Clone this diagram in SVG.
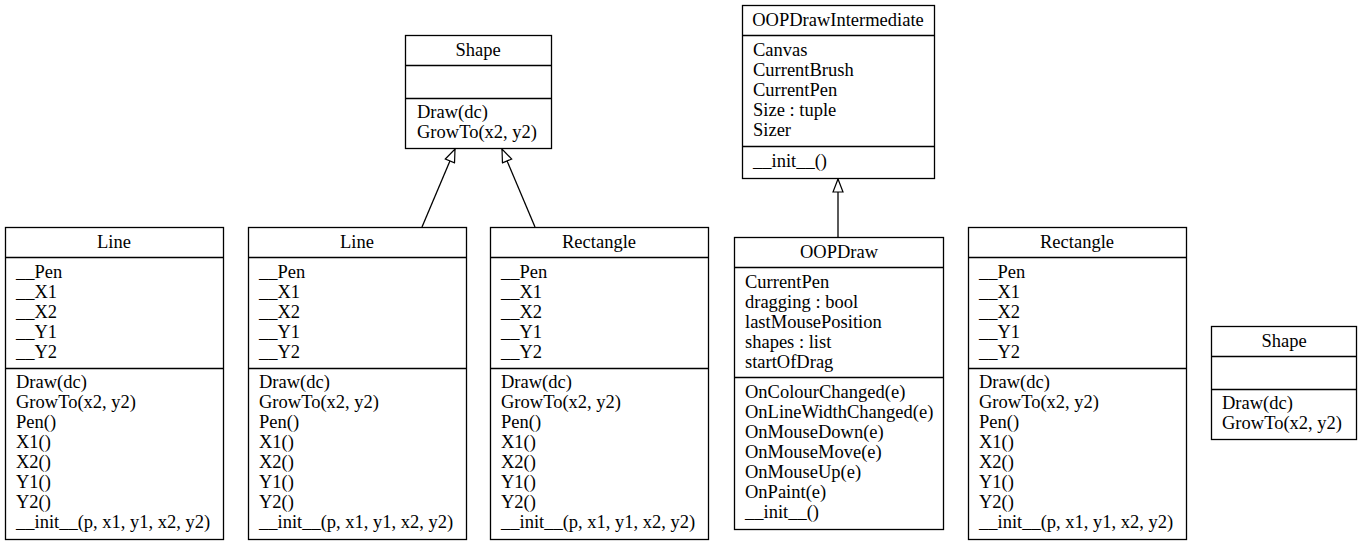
<svg xmlns="http://www.w3.org/2000/svg" width="1362" height="545" viewBox="0 0 1362 545">
<style>
rect.b{fill:#fff;stroke:#000;stroke-width:1.3}
line.d{stroke:#000;stroke-width:1.3}
text{font-size:18.5px;fill:#000}
text.h{text-anchor:middle}
.e{stroke:#000;stroke-width:1.3;fill:none}
</style>
<defs>
<marker id="tri" markerWidth="16" markerHeight="12" refX="14" refY="6" orient="auto" markerUnits="userSpaceOnUse">
<path d="M1,1 L14,6 L1,11 Z" fill="#fff" stroke="#000" stroke-width="1.2"/>
</marker>
</defs>
<rect width="1362" height="545" fill="#fff"/>
<g id="connectors">
<line class="e" x1="422" y1="227" x2="455" y2="149" marker-end="url(#tri)"/>
<line class="e" x1="535" y1="227" x2="502" y2="149" marker-end="url(#tri)"/>
<line class="e" x1="838" y1="237" x2="838" y2="179" marker-end="url(#tri)"/>
</g>
<g font-family="Liberation Serif, Times New Roman, serif">
<g id="shape1">
<rect class="b" x="405.5" y="35.5" width="146" height="113"/>
<line class="d" x1="405.5" y1="65.5" x2="551.5" y2="65.5"/>
<line class="d" x1="405.5" y1="98.5" x2="551.5" y2="98.5"/>
<text class="h" x="478" y="56">Shape</text>
<text x="417" y="118">Draw(dc)</text>
<text x="417" y="138">GrowTo(x2, y2)</text>
</g>
<g id="line1">
<rect class="b" x="5.5" y="227.5" width="218" height="312"/>
<line class="d" x1="5.5" y1="257.5" x2="223.5" y2="257.5"/>
<line class="d" x1="5.5" y1="368.5" x2="223.5" y2="368.5"/>
<text class="h" x="114" y="248">Line</text>
<text x="16" y="278">__Pen</text>
<text x="16" y="298">__X1</text>
<text x="16" y="318">__X2</text>
<text x="16" y="338">__Y1</text>
<text x="16" y="358">__Y2</text>
<text x="16" y="388">Draw(dc)</text>
<text x="16" y="408">GrowTo(x2, y2)</text>
<text x="16" y="428">Pen()</text>
<text x="16" y="448">X1()</text>
<text x="16" y="468">X2()</text>
<text x="16" y="488">Y1()</text>
<text x="16" y="508">Y2()</text>
<text x="16" y="528">__init__(p, x1, y1, x2, y2)</text>
</g>
<g id="line2">
<rect class="b" x="248.5" y="227.5" width="218" height="312"/>
<line class="d" x1="248.5" y1="257.5" x2="466.5" y2="257.5"/>
<line class="d" x1="248.5" y1="368.5" x2="466.5" y2="368.5"/>
<text class="h" x="357" y="248">Line</text>
<text x="259" y="278">__Pen</text>
<text x="259" y="298">__X1</text>
<text x="259" y="318">__X2</text>
<text x="259" y="338">__Y1</text>
<text x="259" y="358">__Y2</text>
<text x="259" y="388">Draw(dc)</text>
<text x="259" y="408">GrowTo(x2, y2)</text>
<text x="259" y="428">Pen()</text>
<text x="259" y="448">X1()</text>
<text x="259" y="468">X2()</text>
<text x="259" y="488">Y1()</text>
<text x="259" y="508">Y2()</text>
<text x="259" y="528">__init__(p, x1, y1, x2, y2)</text>
</g>
<g id="rectangle1">
<rect class="b" x="490.5" y="227.5" width="218" height="312"/>
<line class="d" x1="490.5" y1="257.5" x2="708.5" y2="257.5"/>
<line class="d" x1="490.5" y1="368.5" x2="708.5" y2="368.5"/>
<text class="h" x="599" y="248">Rectangle</text>
<text x="501" y="278">__Pen</text>
<text x="501" y="298">__X1</text>
<text x="501" y="318">__X2</text>
<text x="501" y="338">__Y1</text>
<text x="501" y="358">__Y2</text>
<text x="501" y="388">Draw(dc)</text>
<text x="501" y="408">GrowTo(x2, y2)</text>
<text x="501" y="428">Pen()</text>
<text x="501" y="448">X1()</text>
<text x="501" y="468">X2()</text>
<text x="501" y="488">Y1()</text>
<text x="501" y="508">Y2()</text>
<text x="501" y="528">__init__(p, x1, y1, x2, y2)</text>
</g>
<g id="oopdrawintermediate">
<rect class="b" x="742.5" y="5.5" width="192" height="173"/>
<line class="d" x1="742.5" y1="35.5" x2="934.5" y2="35.5"/>
<line class="d" x1="742.5" y1="146.5" x2="934.5" y2="146.5"/>
<text class="h" x="838" y="26">OOPDrawIntermediate</text>
<text x="753" y="56">Canvas</text>
<text x="753" y="76">CurrentBrush</text>
<text x="753" y="96">CurrentPen</text>
<text x="753" y="116">Size : tuple</text>
<text x="753" y="136">Sizer</text>
<text x="753" y="167">__init__()</text>
</g>
<g id="oopdraw">
<rect class="b" x="734.5" y="237.5" width="209" height="292"/>
<line class="d" x1="734.5" y1="267.5" x2="943.5" y2="267.5"/>
<line class="d" x1="734.5" y1="377.5" x2="943.5" y2="377.5"/>
<text class="h" x="839" y="258">OOPDraw</text>
<text x="745" y="288">CurrentPen</text>
<text x="745" y="308">dragging : bool</text>
<text x="745" y="328">lastMousePosition</text>
<text x="745" y="348">shapes : list</text>
<text x="745" y="368">startOfDrag</text>
<text x="745" y="398">OnColourChanged(e)</text>
<text x="745" y="418">OnLineWidthChanged(e)</text>
<text x="745" y="438">OnMouseDown(e)</text>
<text x="745" y="458">OnMouseMove(e)</text>
<text x="745" y="478">OnMouseUp(e)</text>
<text x="745" y="498">OnPaint(e)</text>
<text x="745" y="518">__init__()</text>
</g>
<g id="rectangle2">
<rect class="b" x="968.5" y="227.5" width="218" height="312"/>
<line class="d" x1="968.5" y1="257.5" x2="1186.5" y2="257.5"/>
<line class="d" x1="968.5" y1="368.5" x2="1186.5" y2="368.5"/>
<text class="h" x="1077" y="248">Rectangle</text>
<text x="979" y="278">__Pen</text>
<text x="979" y="298">__X1</text>
<text x="979" y="318">__X2</text>
<text x="979" y="338">__Y1</text>
<text x="979" y="358">__Y2</text>
<text x="979" y="388">Draw(dc)</text>
<text x="979" y="408">GrowTo(x2, y2)</text>
<text x="979" y="428">Pen()</text>
<text x="979" y="448">X1()</text>
<text x="979" y="468">X2()</text>
<text x="979" y="488">Y1()</text>
<text x="979" y="508">Y2()</text>
<text x="979" y="528">__init__(p, x1, y1, x2, y2)</text>
</g>
<g id="shape2">
<rect class="b" x="1211.5" y="326.5" width="145" height="113"/>
<line class="d" x1="1211.5" y1="356.5" x2="1356.5" y2="356.5"/>
<line class="d" x1="1211.5" y1="389.5" x2="1356.5" y2="389.5"/>
<text class="h" x="1284" y="347">Shape</text>
<text x="1222" y="409">Draw(dc)</text>
<text x="1222" y="429">GrowTo(x2, y2)</text>
</g>
</g>
</svg>
